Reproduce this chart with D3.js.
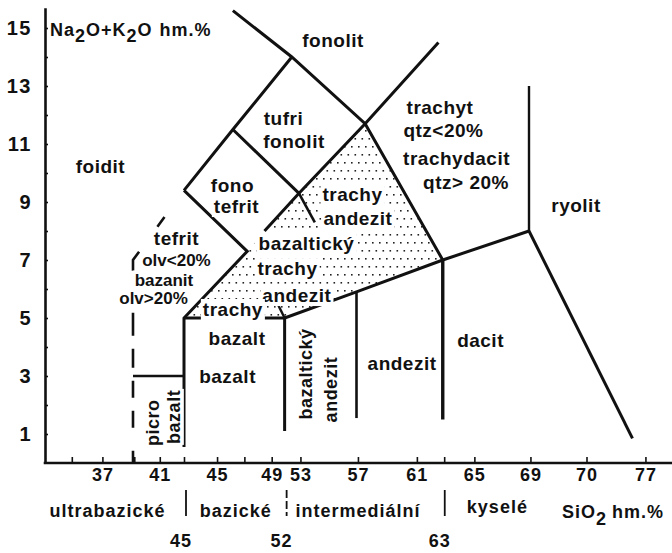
<!DOCTYPE html>
<html>
<head>
<meta charset="utf-8">
<script src="https://cdn.jsdelivr.net/npm/d3@7"></script>
<style>
  html, body { margin: 0; padding: 0; background: #fff; }
  svg { display: block; }
</style>
</head>
<body>
<svg id="chart" width="672" height="553"></svg>
<script>
// ---- axis ticks -------------------------------------------------------
// SiO2 position (wt.%) of each labelled tick on the x axis, and its caption
const xTickAt     = [38.6, 43.1, 47.3, 51.1, 53.1, 57.1, 61.2, 65.2, 69.1, 73, 77.1];
const xTickLabels = ["37", "41", "45", "49", "53", "57", "61", "65", "69", "70", "77"];
const xMinorAt    = [36.2, 41.1, 45, 49.2, 63.1];
const yTickValues = d3.range(1, 16);          // Na2O+K2O, labels on odd values

// ---- silica classes under the axis -----------------------------------
const silicaClasses = ["ultrabazické", "bazické", "intermediální", "kyselé"];
const silicaClassAt = [39.0, 48.6, 57.1, 66.8];
const silicaLimits  = [45, 52, 63];

// ---- field boundaries, [SiO2, Na2O+K2O] -------------------------------
const phonoliteBase   = [[48.4, 15.6], [52.5, 14], [57.6, 11.7], [63, 7]];
const trachyteLeft    = [[62.7, 14.5], [57.6, 11.7], [53, 9.3], [50.6, 8.0]];
const foiditeEdge     = [[52.5, 14], [48.4, 11.5], [45, 9.4]];
const foiditeDashed   = [[45, 9.4], [41, 7], [41, 0]];
const tephriPhonoEdge = [[48.4, 11.5], [53, 9.3]];
const trachyandStub   = [[53, 9.3], [54.1, 8.3]];
const tephriteEdge    = [[45, 9.4], [49.4, 7.3], [45, 5], [45, 0.55]];
const picroTop        = [[41, 3], [45, 3]];
const basaltEdge      = [[45, 5], [52, 5], [52, 1.1]];
const trachybasStub   = [[51.5, 5.5], [52, 5]];
const alkaliDivide    = [[52, 5], [57, 5.9], [63, 7], [69, 8]];
const rhyoliteLeft    = [[69, 8], [69, 13]];
const andesiteLeft    = [[57, 5.9], [57, 1.55]];
const daciteLeft      = [[63, 7], [63, 1.5]];
const rhyoliteBase    = [[69, 8], [76.2, 0.85]];
// dotted trachyandesite / trachybasalt field
const stippleField    = [[45, 5], [49.4, 7.3], [53, 9.3], [57.6, 11.7], [63, 7], [57, 5.9], [52, 5]];

// ---- field names: text, SiO2, Na2O+K2O (centre, baseline) -------------
const fieldLabels = [
  ["foidit", 38.45, 10.0],
  ["fonolit", 55.37, 14.34],
  ["tufri", 51.92, 11.66],
  ["fonolit", 52.65, 10.86],
  ["fono", 48.37, 9.34],
  ["tefrit", 48.65, 8.62],
  ["tefrit", 44.41, 7.52],
  ["trachy", 56.72, 9.03],
  ["andezit", 57.1, 8.21],
  ["bazaltický", 53.52, 7.34],
  ["trachy", 52.2, 6.48],
  ["andezit", 52.85, 5.55],
  ["trachy", 48.4, 5.07],
  ["bazalt", 48.69, 4.07],
  ["bazalt", 48.03, 2.76],
  ["andezit", 60.17, 3.2],
  ["dacit", 65.63, 4.0],
  ["trachyt", 62.81, 12.03],
  ["qtz<20%", 63.05, 11.24],
  ["trachydacit", 63.96, 10.28],
  ["qtz> 20%", 64.62, 9.45],
  ["ryolit", 72.27, 8.66]
];
// olivine notes of the tephrite / basanite field, set tighter
const olivineLabels = [
  ["olv<20%", 44.41, 6.79],
  ["bazanit", 43.43, 6.12],
  ["olv>20%", 42.61, 5.47]
];
// names written upwards: text, SiO2, Na2O+K2O (centre)
const verticalLabels = [
  ["picro", 42.53, 1.39],
  ["bazalt", 44.18, 1.59],
  ["bazaltický", 53.49, 3.07],
  ["andezit", 55.19, 2.53]
];

// ---- layout -----------------------------------------------------------
const W = 672, H = 553;
const axisLeftX = 45;
const FONT = '"Liberation Sans", Arial, Helvetica, sans-serif';
const INK = "#111";

const x = d3.scaleLinear().domain([41, 45, 69]).range([133, 184, 529]);
const y = d3.scaleLinear().domain([0, 15.7]).range([463, 7.7]);
const y0 = y(0);

const svg = d3.select("#chart");
svg.append("rect").attr("width", W).attr("height", H).attr("fill", "#fff");

// stipple pattern
const pat = svg.append("defs").append("pattern")
  .attr("id", "stipple").attr("width", 7).attr("height", 16)
  .attr("patternUnits", "userSpaceOnUse");
pat.append("rect").attr("x", 1).attr("y", 2).attr("width", 1.6).attr("height", 1.6).attr("fill", "#222");
pat.append("rect").attr("x", 4.5).attr("y", 10).attr("width", 1.6).attr("height", 1.6).attr("fill", "#222");

const line = d3.line().x(d => x(d[0])).y(d => y(d[1]));

svg.append("path")
  .attr("d", line(stippleField) + "Z")
  .attr("fill", "url(#stipple)");

// field boundaries
const gLines = svg.append("g").attr("fill", "none").attr("stroke", INK)
  .attr("stroke-linejoin", "miter").attr("stroke-linecap", "butt");
function boundary(pts, w, dash) {
  gLines.append("path").attr("d", line(pts))
    .attr("stroke-width", w)
    .attr("stroke-dasharray", dash || null);
}
boundary(phonoliteBase, 3);
boundary(trachyteLeft, 3);
boundary(foiditeEdge, 3);
boundary(foiditeDashed, 2.6, "0,33,12,31,21,42,23,13,19,13,17,13,17,23,13,40");
boundary(tephriPhonoEdge, 3);
boundary(trachyandStub, 2.6);
boundary(tephriteEdge, 3);
boundary(picroTop, 2.4);
boundary(basaltEdge, 3);
boundary(trachybasStub, 2.4);
boundary(alkaliDivide, 3);
boundary(rhyoliteLeft, 2.4);
boundary(andesiteLeft, 2.6);
boundary(daciteLeft, 3.4);
boundary(rhyoliteBase, 3);

// y axis
const gy = svg.append("g").attr("transform", `translate(${axisLeftX},0)`)
  .call(d3.axisLeft(y).tickValues(yTickValues).tickSizeInner(-3).tickSizeOuter(0)
    .tickPadding(13).tickFormat(d => d % 2 ? d : ""));
gy.attr("font-family", FONT).attr("font-size", 20).attr("font-weight", "bold");
gy.select(".domain").attr("stroke", INK).attr("stroke-width", 2.6);
gy.selectAll(".tick line").attr("stroke", INK).attr("stroke-width", 1.6);
gy.selectAll(".tick text").attr("fill", INK).attr("letter-spacing", 1.5);

// x axis: baseline, minor ticks, labelled ticks
svg.append("line").attr("x1", axisLeftX - 1.3).attr("x2", W).attr("y1", y0).attr("y2", y0)
  .attr("stroke", INK).attr("stroke-width", 2.6);
const gxMinor = svg.append("g").attr("transform", `translate(0,${y0})`)
  .call(d3.axisBottom(x).tickValues(xMinorAt).tickSizeInner(-6).tickSizeOuter(0).tickFormat(""));
gxMinor.select(".domain").remove();
gxMinor.selectAll(".tick line").attr("stroke", INK).attr("stroke-width", 1.6);
const gx = svg.append("g").attr("transform", `translate(0,${y0})`)
  .call(d3.axisBottom(x).tickValues(xTickAt).tickSizeInner(-6).tickSizeOuter(0)
    .tickPadding(5).tickFormat((d, i) => xTickLabels[i]));
gx.select(".domain").remove();
gx.attr("font-family", FONT).attr("font-size", 18).attr("font-weight", "bold");
gx.selectAll(".tick line").attr("stroke", INK).attr("stroke-width", 1.6);
gx.selectAll(".tick text").attr("fill", INK).attr("letter-spacing", 1);

// field names, each on a white patch that hides the dots behind it
function knockout(g, t, padX) {
  const b = t.node().getBBox();
  g.insert("rect", "text").attr("x", b.x - padX).attr("y", b.y)
    .attr("width", b.width + 2 * padX).attr("height", b.height).attr("fill", "#fff");
}
function fieldNames(list, size, spacing) {
  const gLab = svg.append("g").attr("font-family", FONT).attr("font-weight", "bold")
    .attr("font-size", size).attr("fill", INK).attr("letter-spacing", spacing);
  list.forEach(([txt, sx, ay]) => {
    const g = gLab.append("g");
    const t = g.append("text").attr("x", x(sx)).attr("y", y(ay))
      .attr("text-anchor", "middle").text(txt);
    knockout(g, t, 2);
  });
  return gLab;
}
fieldNames(fieldLabels, 19, 0.5);
fieldNames(olivineLabels, 17, 0);

const gVert = svg.append("g").attr("font-family", FONT).attr("font-weight", "bold")
  .attr("font-size", 18).attr("fill", INK).attr("letter-spacing", 0.5);
verticalLabels.forEach(([txt, sx, ay]) => {
  const g = gVert.append("g").attr("transform", `translate(${x(sx)},${y(ay)}) rotate(-90)`);
  const t = g.append("text").attr("text-anchor", "middle").attr("dy", "0.35em").text(txt);
  knockout(g, t, 1);
});

// axis titles
const gT = svg.append("g").attr("font-family", FONT).attr("font-weight", "bold")
  .attr("font-size", 18).attr("fill", INK).attr("letter-spacing", 1);
const yTitle = gT.append("text").attr("x", 50).attr("y", 36);
yTitle.append("tspan").text("Na");
yTitle.append("tspan").attr("dy", 6).text("2");
yTitle.append("tspan").attr("dy", -6).text("O+K");
yTitle.append("tspan").attr("dy", 6).text("2");
yTitle.append("tspan").attr("dy", -6).text("O");
yTitle.append("tspan").attr("dx", 7).text("hm.%");

const xTitle = gT.append("text").attr("x", 562).attr("y", 518);
xTitle.append("tspan").text("SiO");
xTitle.append("tspan").attr("dy", 7).text("2");
xTitle.append("tspan").attr("dy", -7).attr("dx", 5).text("hm.%");

// silica classes and their limits
silicaClasses.forEach((c, i) => {
  gT.append("text").attr("x", x(silicaClassAt[i])).attr("y", y0 + (i === 3 ? 50 : 54))
    .attr("text-anchor", "middle").text(c);
});
silicaLimits.forEach((v, i) => {
  gT.append("line").attr("x1", x(v) + 2).attr("x2", x(v) + 2)
    .attr("y1", y0 + 27).attr("y2", y0 + 53)
    .attr("stroke", INK).attr("stroke-width", 1.8)
    .attr("stroke-dasharray", i === 1 ? "8,3" : null);
  gT.append("text").attr("x", x(v) - 3).attr("y", y0 + 84)
    .attr("text-anchor", "middle").text(v);
});
</script>
</body>
</html>
